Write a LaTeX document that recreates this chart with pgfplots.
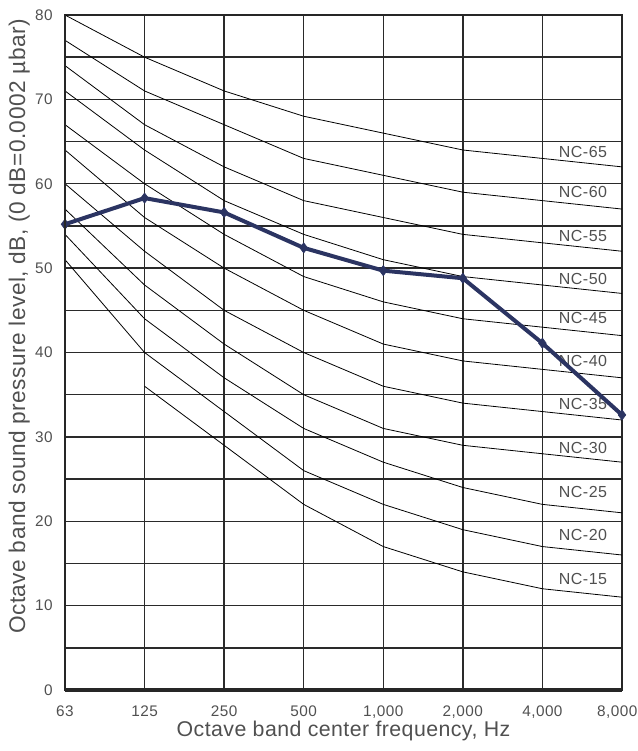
\documentclass[border=0pt]{standalone}
\usepackage{fontspec}
\setmainfont{Liberation Sans}
\usepackage{pgfplots}
\pgfplotsset{compat=1.18}
\definecolor{meas}{HTML}{2B3462}
\definecolor{txt}{HTML}{505050}
\definecolor{gridc}{HTML}{2A2A2A}
\begin{document}
\begin{tikzpicture}
\useasboundingbox (-48.75pt,-45.75pt) rectangle (429pt,517.5pt);
\begin{axis}[
  at={(0pt,0pt)}, anchor=south west,
  scale only axis, width=417.75pt, height=506.25pt,
  xmin=0, xmax=7, ymin=0, ymax=80,
  xtick={0,1,2,3,4,5,6,7},
  xticklabels={63,125,250,500,{1,000},{2,000},{4,000},{\kern-7pt 8,000}},
  ytick={0,10,20,30,40,50,60,70,80},
  minor ytick={5,15,25,35,45,55,65,75},
  grid=both,
  major grid style={draw=gridc,line width=1.05pt},
  minor grid style={draw=gridc,line width=1.05pt},
  major tick length=0pt, minor tick length=0pt,
  axis line style={line width=1.6pt, draw=black!85},
  /pgf/number format/assume math mode=true,
  tick label style={font=\fontsize{11.5}{13}\selectfont\addfontfeature{LetterSpace=3}, text=txt},
  xticklabel style={anchor=base, yshift=-20pt},
  yticklabel style={anchor=east, inner sep=0pt, xshift=-9pt},
  xlabel={Octave band center frequency, Hz},
  ylabel={Octave band sound pressure level, dB, (0 dB=0.0002 µbar)},
  every axis x label/.style={at={(axis description cs:0.5,-0.0696)}, anchor=base, font=\fontsize{16}{18}\selectfont\addfontfeature{LetterSpace=2}, text=txt},
  every axis y label/.style={at={(axis description cs:-0.0718,0.5385)}, rotate=90, anchor=base, font=\fontsize{17}{19}\selectfont\addfontfeature{LetterSpace=2}, text=txt},
  clip mode=individual,
]
% NC curves
\addplot[black, line width=0.6pt] coordinates {(1,36) (2,29) (3,22) (4,17) (5,14) (6,12) (7,11)};
\addplot[black, line width=0.6pt] coordinates {(0,51) (1,40) (2,33) (3,26) (4,22) (5,19) (6,17) (7,16)};
\addplot[black, line width=0.6pt] coordinates {(0,54) (1,44) (2,37) (3,31) (4,27) (5,24) (6,22) (7,21)};
\addplot[black, line width=0.6pt] coordinates {(0,57) (1,48) (2,41) (3,35) (4,31) (5,29) (6,28) (7,27)};
\addplot[black, line width=0.6pt] coordinates {(0,60) (1,52) (2,45) (3,40) (4,36) (5,34) (6,33) (7,32)};
\addplot[black, line width=0.6pt] coordinates {(0,64) (1,56) (2,50) (3,45) (4,41) (5,39) (6,38) (7,37)};
\addplot[black, line width=0.6pt] coordinates {(0,67) (1,60) (2,54) (3,49) (4,46) (5,44) (6,43) (7,42)};
\addplot[black, line width=0.6pt] coordinates {(0,71) (1,64) (2,58) (3,54) (4,51) (5,49) (6,48) (7,47)};
\addplot[black, line width=0.6pt] coordinates {(0,74) (1,67) (2,62) (3,58) (4,56) (5,54) (6,53) (7,52)};
\addplot[black, line width=0.6pt] coordinates {(0,77) (1,71) (2,67) (3,63) (4,61) (5,59) (6,58) (7,57)};
\addplot[black, line width=0.6pt] coordinates {(0,80) (1,75) (2,71) (3,68) (4,66) (5,64) (6,63) (7,62)};
% NC labels
\begin{scope}[every node/.style={font=\fontsize{12}{14}\selectfont\addfontfeature{LetterSpace=3}, text=txt}]
\node at (axis cs:6.51,63.8) {NC-65};
\node at (axis cs:6.51,59.06) {NC-60};
\node at (axis cs:6.51,53.8) {NC-55};
\node at (axis cs:6.51,48.7) {NC-50};
\node at (axis cs:6.51,44.05) {NC-45};
\node at (axis cs:6.51,39.0) {NC-40};
\node at (axis cs:6.51,33.9) {NC-35};
\node at (axis cs:6.51,28.7) {NC-30};
\node at (axis cs:6.51,23.5) {NC-25};
\node at (axis cs:6.51,18.4) {NC-20};
\node at (axis cs:6.51,13.2) {NC-15};
\end{scope}
% measured spectrum
\addplot[meas, line width=3pt, mark=diamond*, mark size=3.8pt, mark options={line width=0.5pt}] coordinates {
 (0,55.2) (1,58.3) (2,56.6) (3,52.4) (4,49.7) (5,48.8) (6,41.1) (7,32.6)};
\draw[black!85, line width=2.2pt] (rel axis cs:0,0) -- (rel axis cs:0,1);
\draw[black!85, line width=3pt] (rel axis cs:0,0) -- (rel axis cs:1,0);
\end{axis}
\end{tikzpicture}
\end{document}
